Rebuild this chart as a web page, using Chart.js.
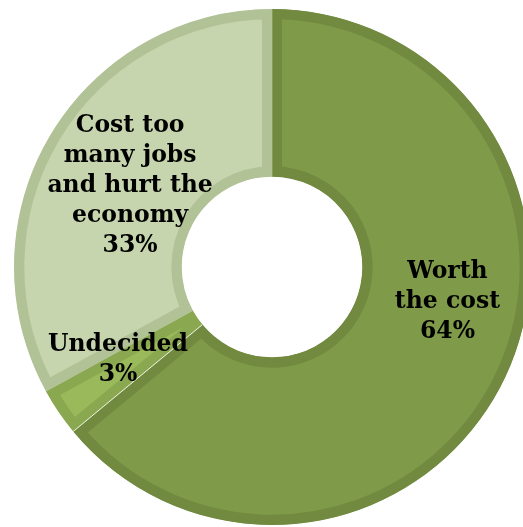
<!DOCTYPE html>
<html>
<head>
<meta charset="utf-8">
<script src="https://cdn.jsdelivr.net/npm/chart.js@4.4.1/dist/chart.umd.min.js"></script>
<style>
  html, body { margin: 0; padding: 0; background: #fff; overflow: hidden; }
  #wrap { position: absolute; left: 0; top: 0; width: 544px; height: 534px; }
</style>
</head>
<body>
<div id="wrap"><canvas id="opinion" width="544" height="534"></canvas></div>
<script>
// slices, clockwise from 12 o'clock
var categories = ['Worth the cost', 'Undecided', 'Cost too many jobs and hurt the economy'];
var shares = [64, 3, 33];
var labelLines = [
    ['Worth', 'the cost'],
    ['Undecided'],
    ['Cost too', 'many jobs', 'and hurt the', 'economy']
];

var fills   = ['#7f9a48', '#9ab95b', '#c6d5ad'];
var borders = ['#718a3f', '#8aa84f', '#b2c297'];

// where each label block sits, as a fraction of the outer radius from the centre
var labelSpot = [[0.68, 0.135], [-0.597, 0.36], [-0.55, -0.315]];

var sliceLabels = {
    id: 'sliceLabels',
    afterDatasetsDraw: function (chart) {
        var ctx = chart.ctx;
        var meta = chart.getDatasetMeta(0);
        ctx.save();

        // thin light seam between "Undecided" and "Worth the cost"
        var arc = meta.data[1];
        var a = arc.startAngle;
        ctx.strokeStyle = 'rgba(255,255,255,0.85)';
        ctx.lineWidth = 1;
        ctx.beginPath();
        ctx.moveTo(arc.x + Math.cos(a) * arc.innerRadius, arc.y + Math.sin(a) * arc.innerRadius);
        ctx.lineTo(arc.x + Math.cos(a) * arc.outerRadius, arc.y + Math.sin(a) * arc.outerRadius);
        ctx.stroke();

        ctx.font = 'bold 23.5px Georgia, "DejaVu Serif", serif';
        ctx.fillStyle = '#000';
        ctx.textAlign = 'center';
        ctx.textBaseline = 'middle';
        var lh = 30;
        meta.data.forEach(function (el, i) {
            var lines = labelLines[i].concat([shares[i] + '%']);
            var cx = el.x + labelSpot[i][0] * el.outerRadius;
            var cy = el.y + labelSpot[i][1] * el.outerRadius;
            var y0 = cy - (lines.length - 1) * lh / 2;
            lines.forEach(function (t, k) {
                ctx.fillText(t, cx, y0 + k * lh);
            });
        });
        ctx.restore();
    }
};

new Chart(document.getElementById('opinion').getContext('2d'), {
    type: 'doughnut',
    data: {
        labels: categories,
        datasets: [{
            data: shares,
            backgroundColor: fills,
            borderColor: borders,
            borderWidth: 10,
            borderAlign: 'inner'
        }]
    },
    options: {
        responsive: false,
        animation: false,
        cutout: '35%',
        layout: { padding: { left: 14, right: 14, top: 9, bottom: 9 } },
        plugins: {
            legend: { display: false },
            tooltip: { enabled: false }
        }
    },
    plugins: [sliceLabels]
});
</script>
</body>
</html>
